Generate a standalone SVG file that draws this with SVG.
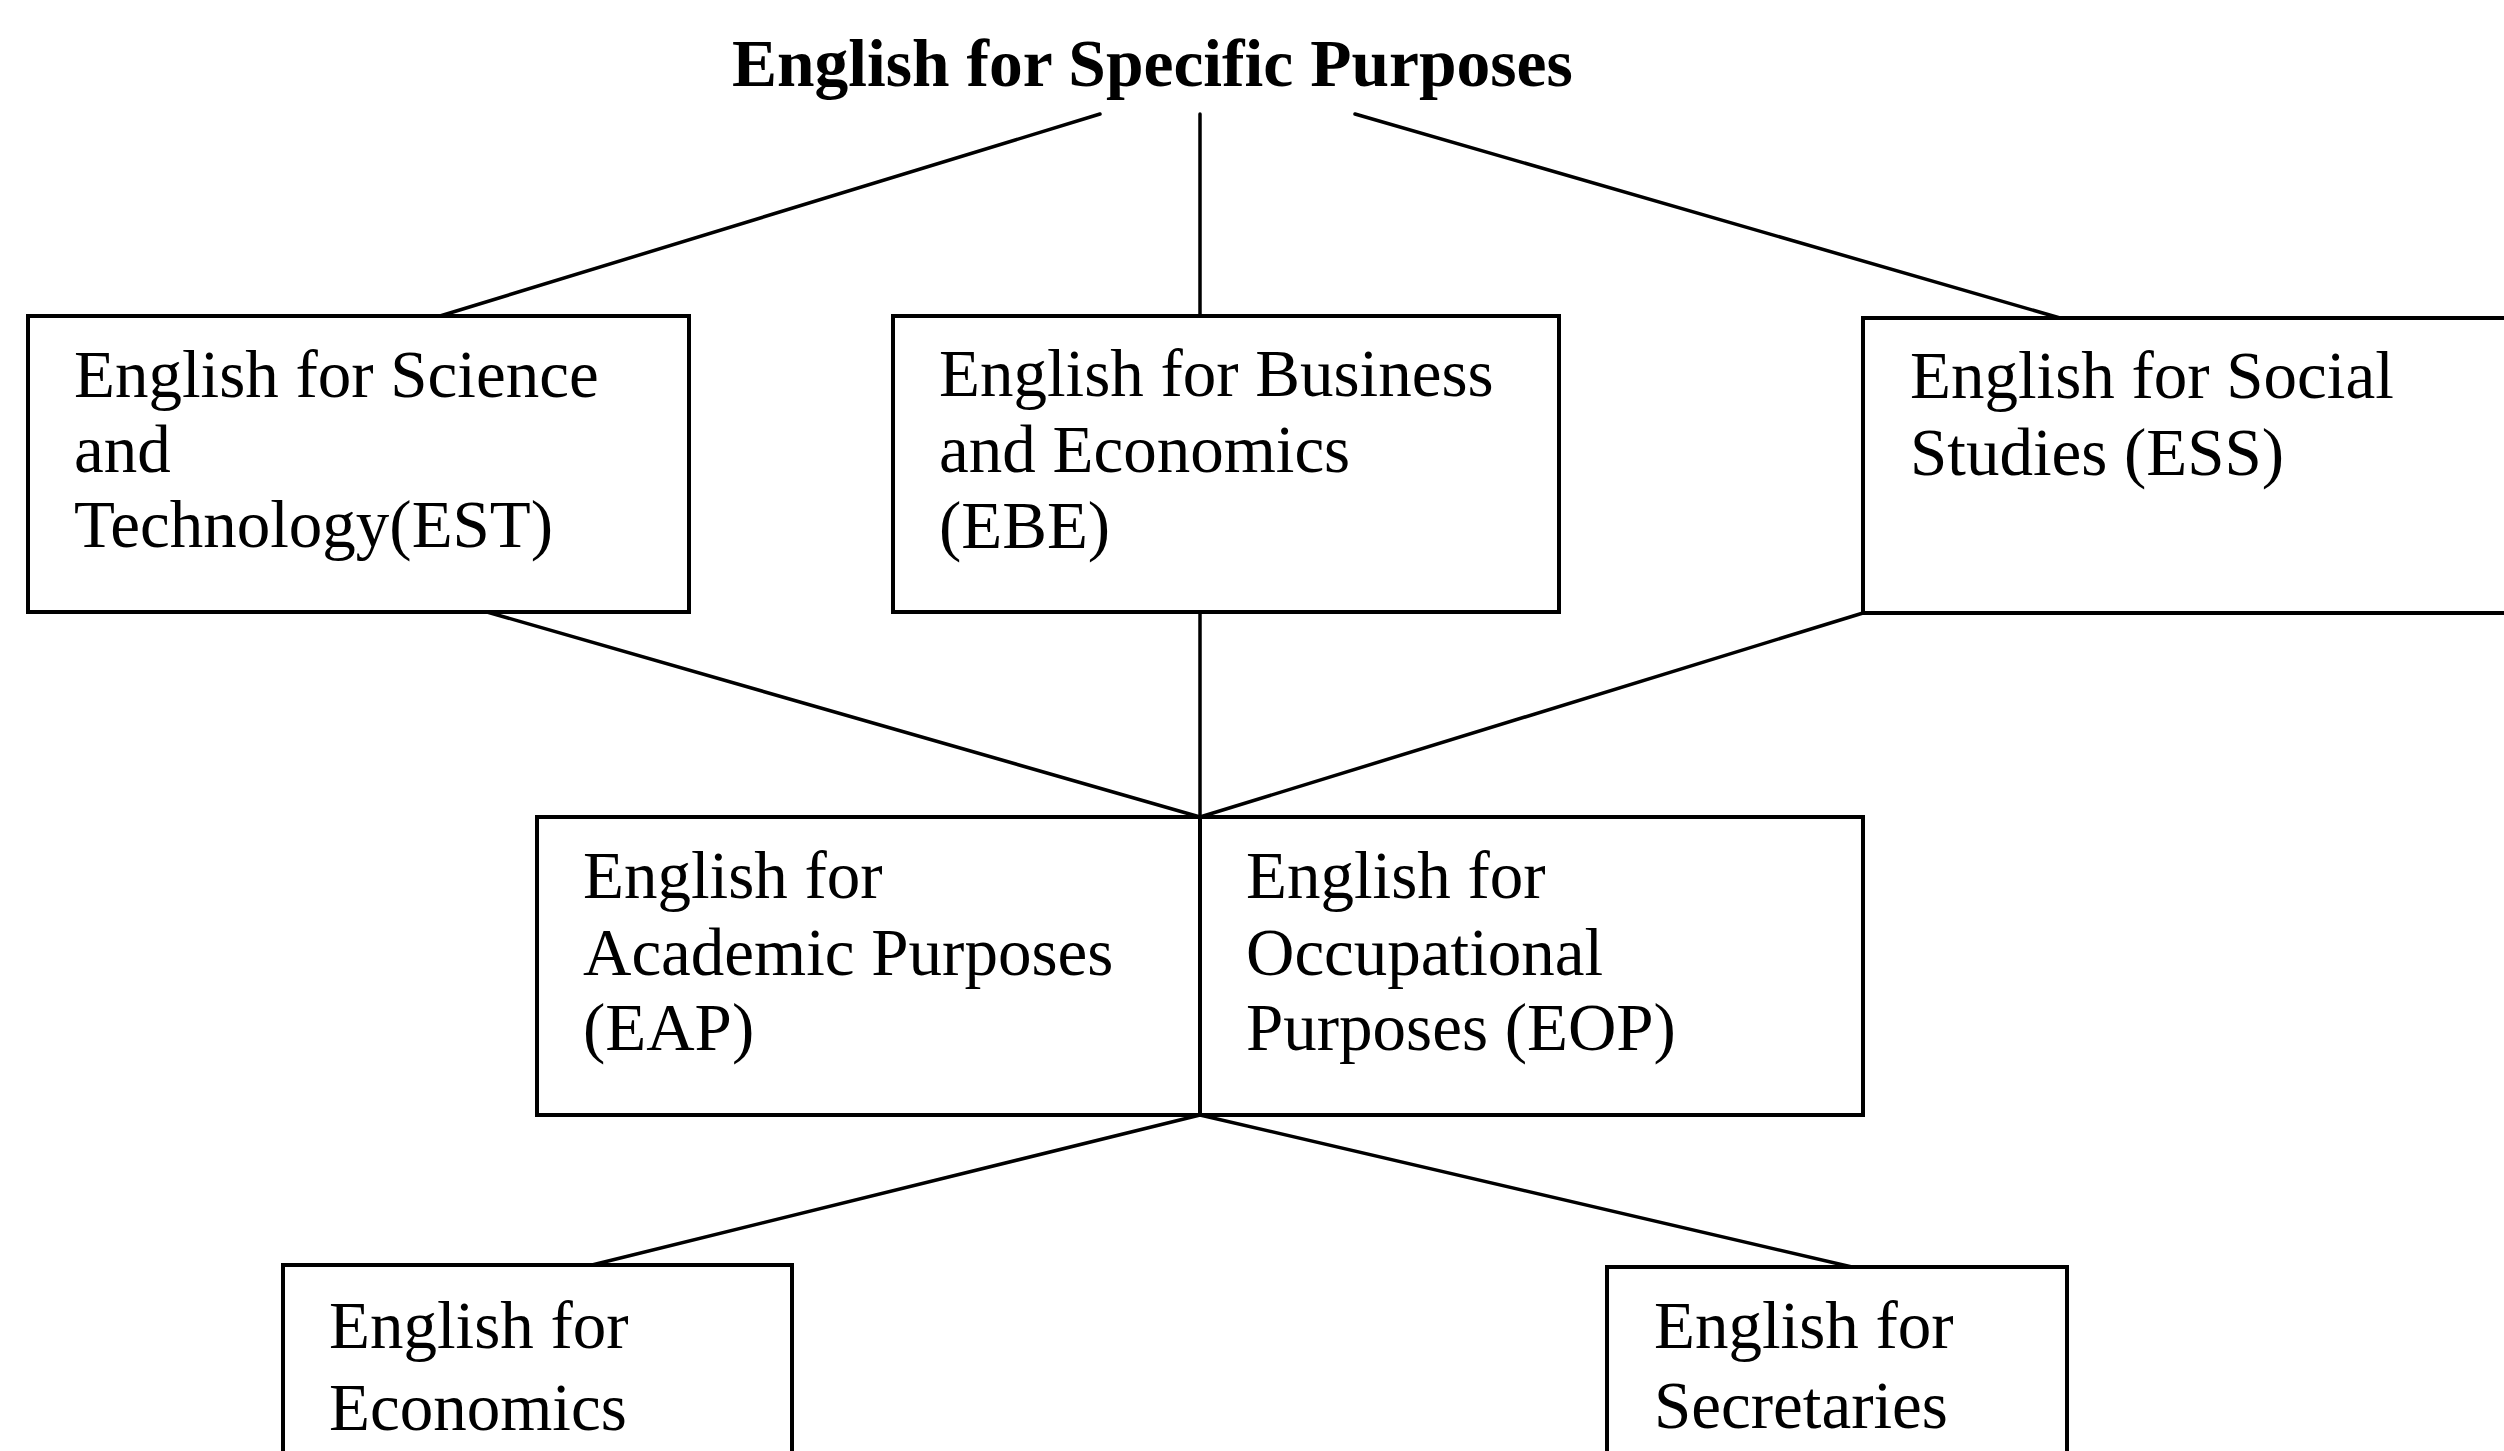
<svg xmlns="http://www.w3.org/2000/svg" width="2504" height="1451" viewBox="0 0 2504 1451">
  <style>
    .box { fill: #ffffff; stroke: #000000; stroke-width: 4; }
    .link { fill: none; stroke: #000000; stroke-width: 3.5; stroke-linecap: round; }
    .lbl { font-family: "Liberation Serif", "Times New Roman", serif; font-size: 67px; fill: #000000; }
    .title { font-family: "Liberation Serif", "Times New Roman", serif; font-size: 67.5px; font-weight: bold; fill: #000000; }
  </style>
  <rect x="0" y="0" width="2504" height="1451" fill="#ffffff"/>

  <!-- connectors -->
  <g id="connectors">
    <line class="link" x1="1100" y1="114" x2="440" y2="316"/>
    <line class="link" x1="1200" y1="114" x2="1200" y2="316"/>
    <line class="link" x1="1355" y1="114" x2="2060" y2="318"/>
    <line class="link" x1="487" y1="612" x2="1200" y2="817"/>
    <line class="link" x1="1200" y1="612" x2="1200" y2="817"/>
    <line class="link" x1="1863" y1="613" x2="1200" y2="817"/>
    <line class="link" x1="1200" y1="1115" x2="592" y2="1265"/>
    <line class="link" x1="1200" y1="1115" x2="1852" y2="1267"/>
  </g>

  <!-- root -->
  <g id="esp">
    <text class="title" x="732" y="86">English for Specific Purposes</text>
  </g>

  <!-- second tier -->
  <g id="est">
    <rect class="box" x="28" y="316" width="661" height="296"/>
    <text class="lbl" x="74" y="397">English for Science</text>
    <text class="lbl" x="74" y="472">and</text>
    <text class="lbl" x="74" y="547">Technology(EST)</text>
  </g>
  <g id="ebe">
    <rect class="box" x="893" y="316" width="666" height="296"/>
    <text class="lbl" x="939" y="396">English for Business</text>
    <text class="lbl" x="939" y="472">and Economics</text>
    <text class="lbl" x="939" y="548">(EBE)</text>
  </g>
  <g id="ess">
    <rect class="box" x="1863" y="318" width="700" height="295"/>
    <text class="lbl" x="1910" y="398">English for Social</text>
    <text class="lbl" x="1910" y="475">Studies (ESS)</text>
  </g>

  <!-- third tier -->
  <g id="eap">
    <rect class="box" x="537" y="817" width="663" height="298"/>
    <text class="lbl" x="583" y="898">English for</text>
    <text class="lbl" x="583" y="975">Academic Purposes</text>
    <text class="lbl" x="583" y="1050">(EAP)</text>
  </g>
  <g id="eop">
    <rect class="box" x="1200" y="817" width="663" height="298"/>
    <text class="lbl" x="1246" y="898">English for</text>
    <text class="lbl" x="1246" y="975">Occupational</text>
    <text class="lbl" x="1246" y="1050">Purposes (EOP)</text>
  </g>

  <!-- fourth tier -->
  <g id="economics">
    <rect class="box" x="283" y="1265" width="509" height="220"/>
    <text class="lbl" x="329" y="1348">English for</text>
    <text class="lbl" x="329" y="1430">Economics</text>
  </g>
  <g id="secretaries">
    <rect class="box" x="1607" y="1267" width="460" height="220"/>
    <text class="lbl" x="1654" y="1348">English for</text>
    <text class="lbl" x="1654" y="1428">Secretaries</text>
  </g>
</svg>
